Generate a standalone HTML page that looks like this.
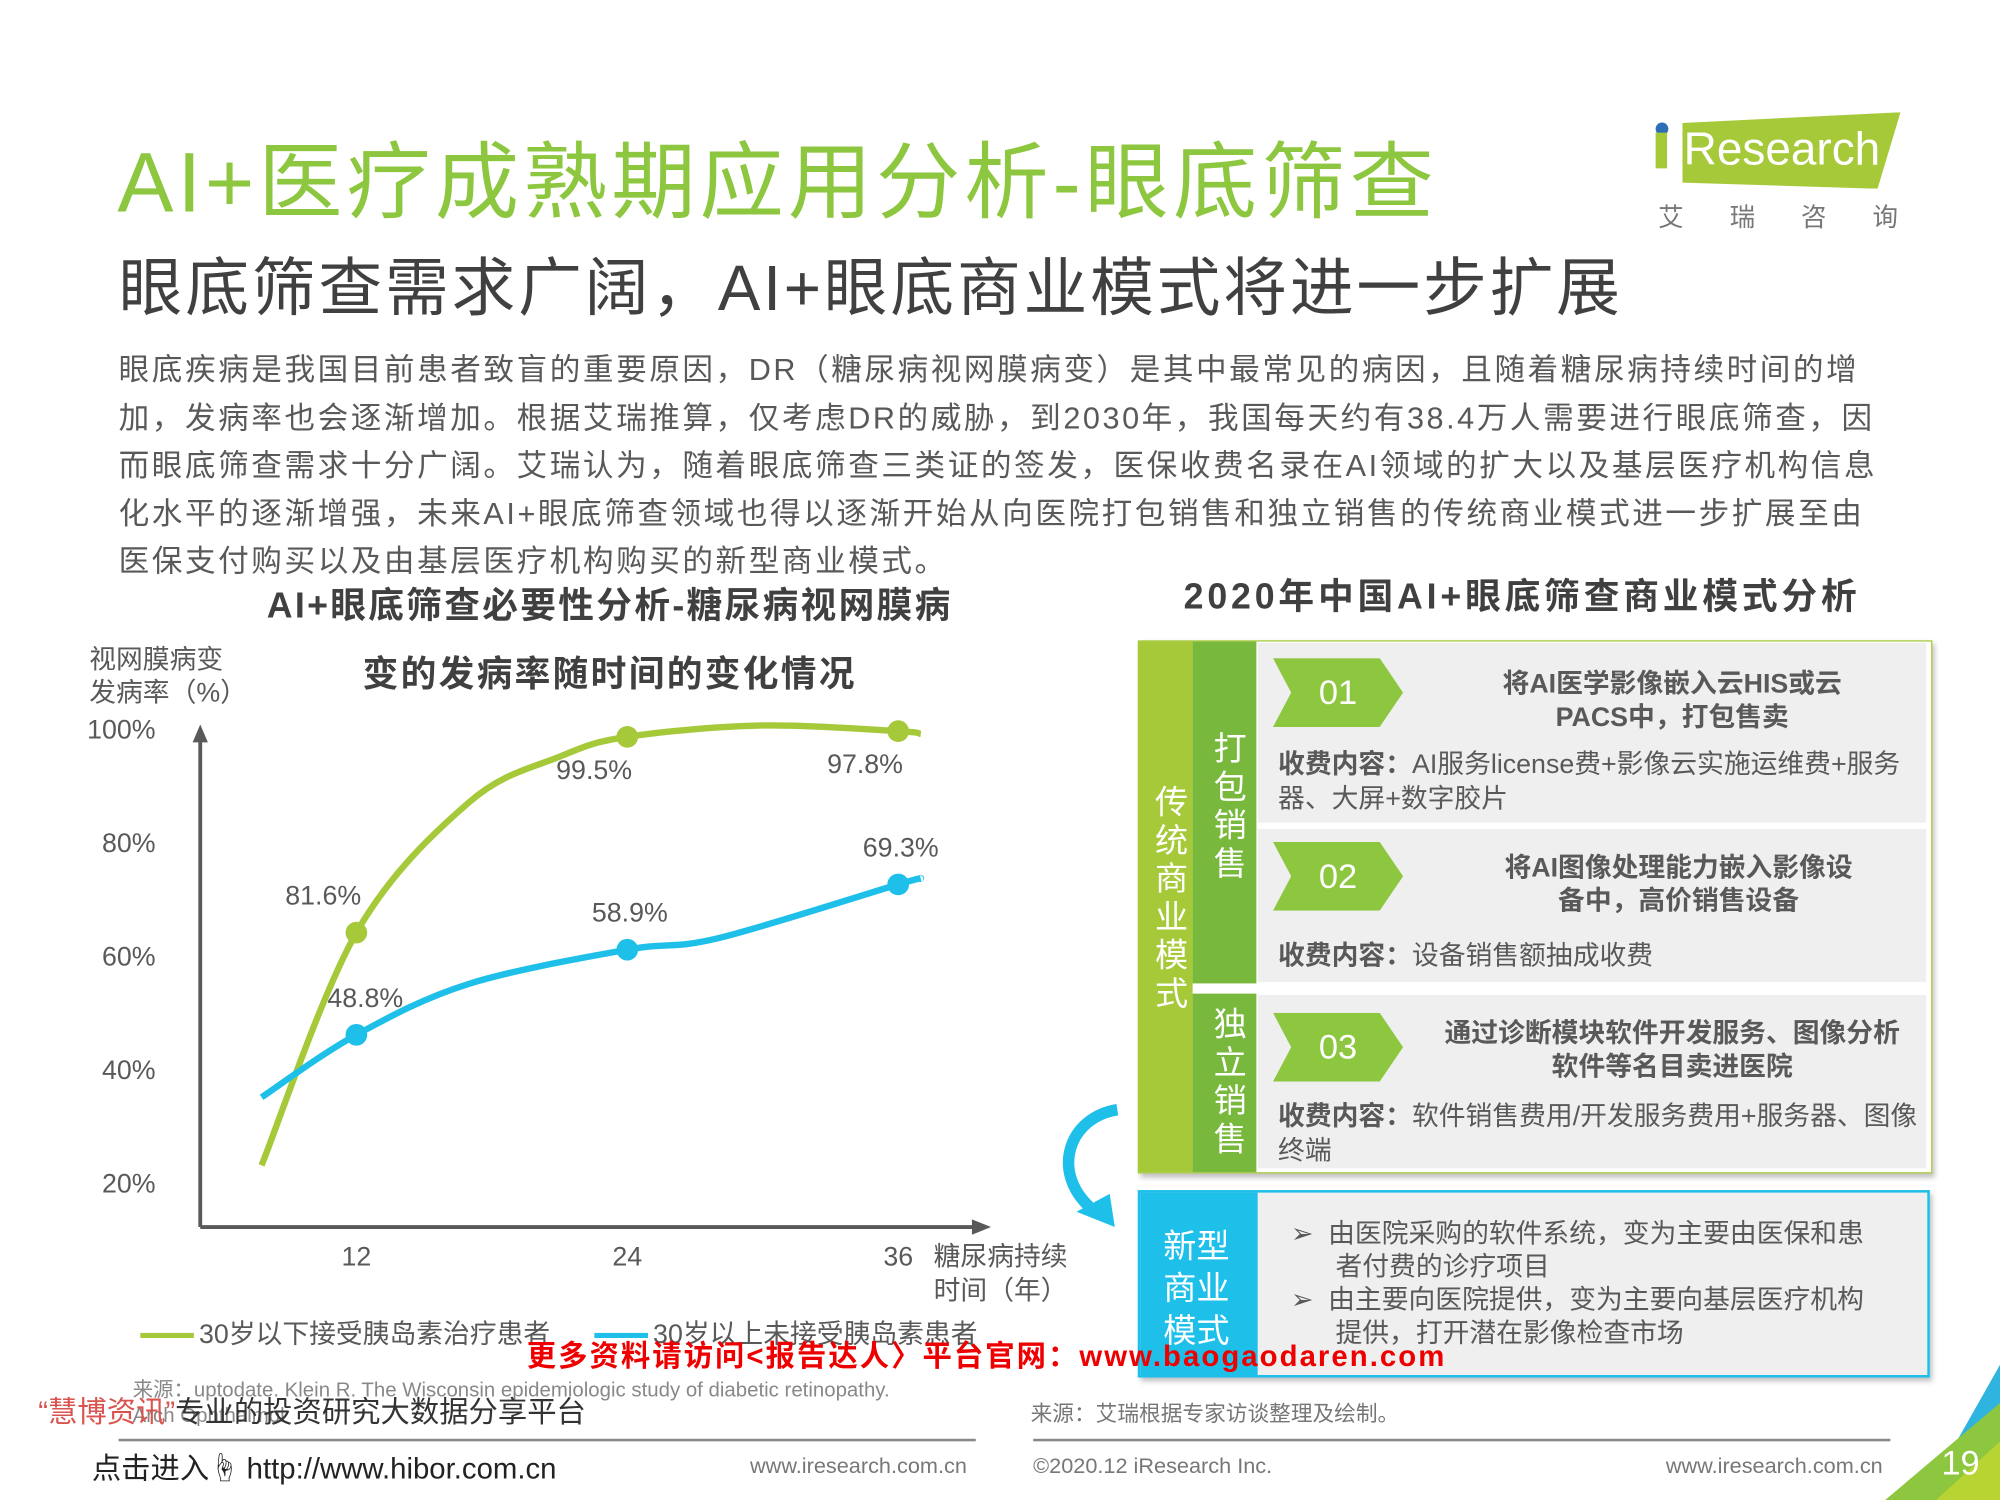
<!DOCTYPE html>
<html><head><meta charset="utf-8">
<style>
html,body{margin:0;padding:0;background:#fff;}
body{width:2000px;height:1500px;overflow:hidden;position:relative;}
#stage{position:absolute;left:0;top:0;width:1568px;height:1176px;transform:scale(1.27551);transform-origin:0 0;font-family:"Liberation Sans","Noto Sans CJK SC",sans-serif;color:#595959;}
.a{position:absolute;white-space:nowrap;}
.vt{writing-mode:vertical-rl;letter-spacing:4px;}
.row{position:absolute;left:986px;width:524px;background:#efefef;}
.chev{position:absolute;left:12px;width:102px;height:54px;background:#8dc63f;clip-path:polygon(0 0,82% 0,100% 50%,82% 100%,0 100%,14% 50%);color:#fff;font-size:27px;line-height:54px;text-align:center;}
.ht{position:absolute;font-weight:bold;color:#595959;font-size:21px;line-height:26px;text-align:center;}
.fee{position:absolute;left:16px;font-size:21px;line-height:27px;color:#595959;white-space:normal;}
.fee b{color:#595959;}
</style></head><body>
<div id="stage">

<div class="a" style="left:92px;top:90px;font-size:66px;color:#8dc63f;letter-spacing:3.2px;">AI+医疗成熟期应用分析-眼底筛查</div>
<div class="a" style="left:93px;top:186px;font-size:50px;color:#404040;letter-spacing:2.2px;">眼底筛查需求广阔，AI+眼底商业模式将进一步扩展</div>

<div style="position:absolute;left:1296px;top:84px;width:196px;height:100px;">
 <div style="position:absolute;left:14px;top:4px;width:180px;height:60px;background:#a6c939;clip-path:polygon(5% 14%,100% 0,90% 100%,5% 92%);"></div>
 <div style="position:absolute;left:2px;top:12px;width:10px;height:10px;border-radius:50%;background:#2d6fb7;"></div>
 <div class="a" style="left:2px;top:20px;width:9px;height:28px;background:#a6c939;"></div>
 <div class="a" style="left:24px;top:12px;font-size:36px;color:#fff;">Research</div>
 <div class="a" style="left:4px;top:70px;font-size:20px;color:#777;letter-spacing:36px;">艾瑞咨询</div>
</div>

<div style="position:absolute;left:93px;top:272px;width:1450px;font-size:24px;line-height:37.5px;color:#595959;letter-spacing:2px;">
眼底疾病是我国目前患者致盲的重要原因，DR（糖尿病视网膜病变）是其中最常见的病因，且随着糖尿病持续时间的增<br>加，发病率也会逐渐增加。根据艾瑞推算，仅考虑DR的威胁，到2030年，我国每天约有38.4万人需要进行眼底筛查，因<br>而眼底筛查需求十分广阔。艾瑞认为，随着眼底筛查三类证的签发，医保收费名录在AI领域的扩大以及基层医疗机构信息<br>化水平的逐渐增强，未来AI+眼底筛查领域也得以逐渐开始从向医院打包销售和独立销售的传统商业模式进一步扩展至由<br>医保支付购买以及由基层医疗机构购买的新型商业模式。
</div>

<div class="a" style="left:150px;top:448px;width:656px;text-align:center;font-size:28px;font-weight:bold;color:#404040;line-height:54px;letter-spacing:1.8px;">AI+眼底筛查必要性分析-糖尿病视网膜病<br>变的发病率随时间的变化情况</div>

<svg id="chart" width="880" height="640" style="position:absolute;left:0;top:500px;overflow:visible;" viewBox="0 500 880 640"></svg>

<div class="a" style="left:928px;top:446px;font-size:28px;font-weight:bold;color:#404040;letter-spacing:3px;">2020年中国AI+眼底筛查商业模式分析</div>

<div style="position:absolute;left:892px;top:502px;width:621px;height:416px;border:1px solid #a6c939;box-shadow:2px 3px 4px rgba(0,0,0,.25);background:#fff;">
 <div style="position:absolute;left:0;top:0;width:42px;height:416px;background:#a6c939;"><div class="a vt" style="left:6px;top:112px;font-size:26px;color:#fff;">传统商业模式</div></div>
 <div style="position:absolute;left:42px;top:0;width:50px;height:268px;background:#78b83c;"><div class="a vt" style="left:10px;top:70px;font-size:26px;color:#fff;">打包销售</div></div>
 <div style="position:absolute;left:42px;top:276px;width:50px;height:140px;background:#78b83c;"><div class="a vt" style="left:10px;top:10px;font-size:26px;color:#fff;">独立销售</div></div>
</div>
<div class="row" style="top:504px;height:141px;">
 <div class="chev" style="top:12px;">01</div>
 <div class="ht" style="left:140px;width:370px;top:20px;">将AI医学影像嵌入云HIS或云<br>PACS中，打包售卖</div>
 <div class="fee" style="top:82px;width:500px;"><b>收费内容：</b>AI服务license费+影像云实施运维费+服务器、大屏+数字胶片</div>
</div>
<div class="row" style="top:650px;height:120px;">
 <div class="chev" style="top:10px;">02</div>
 <div class="ht" style="left:140px;width:380px;top:18px;">将AI图像处理能力嵌入影像设<br>备中，高价销售设备</div>
 <div class="fee" style="top:86px;"><b>收费内容：</b>设备销售额抽成收费</div>
</div>
<div class="row" style="top:780px;height:136px;">
 <div class="chev" style="top:14px;">03</div>
 <div class="ht" style="left:130px;width:390px;top:18px;">通过诊断模块软件开发服务、图像分析<br>软件等名目卖进医院</div>
 <div class="fee" style="top:82px;width:510px;"><b>收费内容：</b>软件销售费用/开发服务费用+服务器、图像终端</div>
</div>

<svg style="position:absolute;left:820px;top:862px;" width="70" height="110"><path d="M56 8 C18 14 4 56 34 84" stroke="#1ec0ea" stroke-width="9" fill="none"/><polygon points="24,88 50,74 54,100" fill="#1ec0ea"/></svg>

<div style="position:absolute;left:892px;top:933px;width:621px;height:147px;border:2px solid #1ec0ea;box-sizing:border-box;background:#efefef;box-shadow:2px 3px 4px rgba(0,0,0,.25);">
 <div style="position:absolute;left:0;top:0;width:92px;height:143px;background:#1ec0ea;"><div class="a" style="left:18px;top:26px;font-size:26px;color:#fff;line-height:33px;">新型<br>商业<br>模式</div></div>
 <div class="a" style="left:118px;top:20px;font-size:21px;line-height:26px;color:#595959;">➢&nbsp; 由医院采购的软件系统，变为主要由医保和患<br>&nbsp;&nbsp;&nbsp;&nbsp;&nbsp;&nbsp;者付费的诊疗项目<br>➢&nbsp; 由主要向医院提供，变为主要向基层医疗机构<br>&nbsp;&nbsp;&nbsp;&nbsp;&nbsp;&nbsp;提供，打开潜在影像检查市场</div>
</div>

<div class="a" style="left:110px;top:1030px;font-size:21px;color:#595959;"><span style="display:inline-block;width:42px;height:4px;background:#a6c939;vertical-align:middle;margin-right:4px;"></span>30岁以下接受胰岛素治疗患者</div>
<div class="a" style="left:466px;top:1030px;font-size:21px;color:#595959;"><span style="display:inline-block;width:42px;height:4px;background:#1ec0ea;vertical-align:middle;margin-right:4px;"></span>30岁以上未接受胰岛素患者</div>
<div class="a" style="left:413px;top:1044px;font-size:23px;font-weight:bold;color:#e00;letter-spacing:1.6px;">更多资料请访问&lt;报告达人〉平台官网：www.baogaodaren.com</div>

<div class="a" style="left:104px;top:1081px;font-size:16px;color:#888;line-height:20px;">来源：uptodate. Klein R. The Wisconsin epidemiologic study of diabetic retinopathy.<br>Arch Ophthalmol</div>
<div class="a" style="left:30px;top:1088px;font-size:23px;color:#333;"><span style="color:#d9534f;">“慧博资讯”</span>专业的投资研究大数据分享平台</div>
<div class="a" style="left:808px;top:1094px;font-size:17px;color:#777;">来源：艾瑞根据专家访谈整理及绘制。</div>

<div style="position:absolute;left:93px;top:1128px;width:672px;height:2px;background:#888;"></div>
<div style="position:absolute;left:810px;top:1128px;width:672px;height:2px;background:#888;"></div>
<div class="a" style="left:72px;top:1132px;font-size:23px;color:#222;">点击进入☝ http://www.hibor.com.cn</div>
<div class="a" style="left:588px;top:1140px;font-size:17px;color:#777;">www.iresearch.com.cn</div>
<div class="a" style="left:810px;top:1140px;font-size:17px;color:#777;">©2020.12 iResearch Inc.</div>
<div class="a" style="left:1306px;top:1140px;font-size:17px;color:#777;">www.iresearch.com.cn</div>
<svg style="position:absolute;left:1478px;top:1060px;" width="90" height="116"><polygon points="90,10 90,116 30,116" fill="#2fb4e0"/><polygon points="90,40 90,116 0,116" fill="#8dc63f"/><polygon points="90,70 90,116 40,116" fill="#b8d432"/></svg>
<div class="a" style="left:1522px;top:1132px;font-size:27px;color:#fff;">19</div>
</div>

<script>
const months = [7.8, 12, 17, 21, 24, 30, 36, 37];
const greenVals = [23, 64, 87, 95, 98.5, 100.5, 99.5, 99];
const blueMonths = [7.8, 12, 17, 24, 28, 36, 37];
const blueVals = [35, 46, 55, 61, 63, 72.5, 73.5];
const markerMonths = [12, 24, 36];
const greenMarkerVals = [64, 98.5, 99.5];
const blueMarkerVals = [46, 61, 72.5];
const greenLabels = ["81.6%", "99.5%", "97.8%"];
const blueLabels = ["48.8%", "58.9%", "69.3%"];
const yTicks = [100, 80, 60, 40, 20];
const xTicks = [12, 24, 36];

const NS = "http://www.w3.org/2000/svg";
const svg = document.getElementById("chart");
const X = m => 67 + m * 17.7;
const Y = v => 1016 - v * 4.45;
function mk(tag, attrs, txt){const e=document.createElementNS(NS,tag);for(const k in attrs)e.setAttribute(k,attrs[k]);if(txt!==undefined)e.textContent=txt;svg.appendChild(e);return e;}
function smooth(xs, ys){
  const p = xs.map((m,i)=>[X(m),Y(ys[i])]);
  let d = "M"+p[0][0]+","+p[0][1];
  for(let i=0;i<p.length-1;i++){
    const p0=p[Math.max(0,i-1)],p1=p[i],p2=p[i+1],p3=p[Math.min(p.length-1,i+2)];
    const c1=[p1[0]+(p2[0]-p0[0])/6,p1[1]+(p2[1]-p0[1])/6];
    const c2=[p2[0]-(p3[0]-p1[0])/6,p2[1]-(p3[1]-p1[1])/6];
    d+=" C"+c1+" "+c2+" "+p2;
  }
  return d;
}
let e = mk("line",{x1:157,y1:962,x2:157,y2:578,stroke:"#595959","stroke-width":3});


e = mk("polygon",{points:"151,582 163,582 157,568",fill:"#595959"});
e = mk("line",{x1:157,y1:962,x2:766,y2:962,stroke:"#595959","stroke-width":3});


mk("polygon",{points:"762,956 762,968 777,962",fill:"#595959"});
yTicks.forEach(t=>{
  const el = mk("text",{x:122,y:Y(t)+8,"text-anchor":"end","font-size":21,fill:"#595959"}, t+"%");
  
  
});
xTicks.forEach(t=>{
  const el = mk("text",{x:X(t),y:992,"text-anchor":"middle","font-size":21,fill:"#595959"}, String(t));
  
  
});
e = mk("text",{x:70,y:524,"font-size":21,fill:"#595959"},"视网膜病变");


mk("text",{x:70,y:550,"font-size":21,fill:"#595959"},"发病率（%）");
e = mk("text",{x:732,y:992,"font-size":21,fill:"#595959"},"糖尿病持续");


mk("text",{x:732,y:1019,"font-size":21,fill:"#595959"},"时间（年）");
e = mk("path",{d:smooth(months,greenVals),stroke:"#a6c939","stroke-width":5,fill:"none"});


e = mk("path",{d:smooth(blueMonths,blueVals),stroke:"#1ec0ea","stroke-width":5,fill:"none"});


markerMonths.forEach((m,i)=>{
  const g = mk("circle",{cx:X(m),cy:Y(greenMarkerVals[i]),r:8.5,fill:"#a6c939"});
  
  
  const b = mk("circle",{cx:X(m),cy:Y(blueMarkerVals[i]),r:8.5,fill:"#1ec0ea"});
  
  
  const gy = i===0 ? Y(greenMarkerVals[i])-22 : Y(greenMarkerVals[i])+33;
  const gl = mk("text",{x:X(m)-26,y:gy,"text-anchor":"middle","font-size":21,fill:"#595959"},greenLabels[i]);
  
  
  const bl = mk("text",{x:X(m)+(i===0?7:2),y:Y(blueMarkerVals[i])-22,"text-anchor":"middle","font-size":21,fill:"#595959"},blueLabels[i]);
  
  
});
</script>
</body></html>
